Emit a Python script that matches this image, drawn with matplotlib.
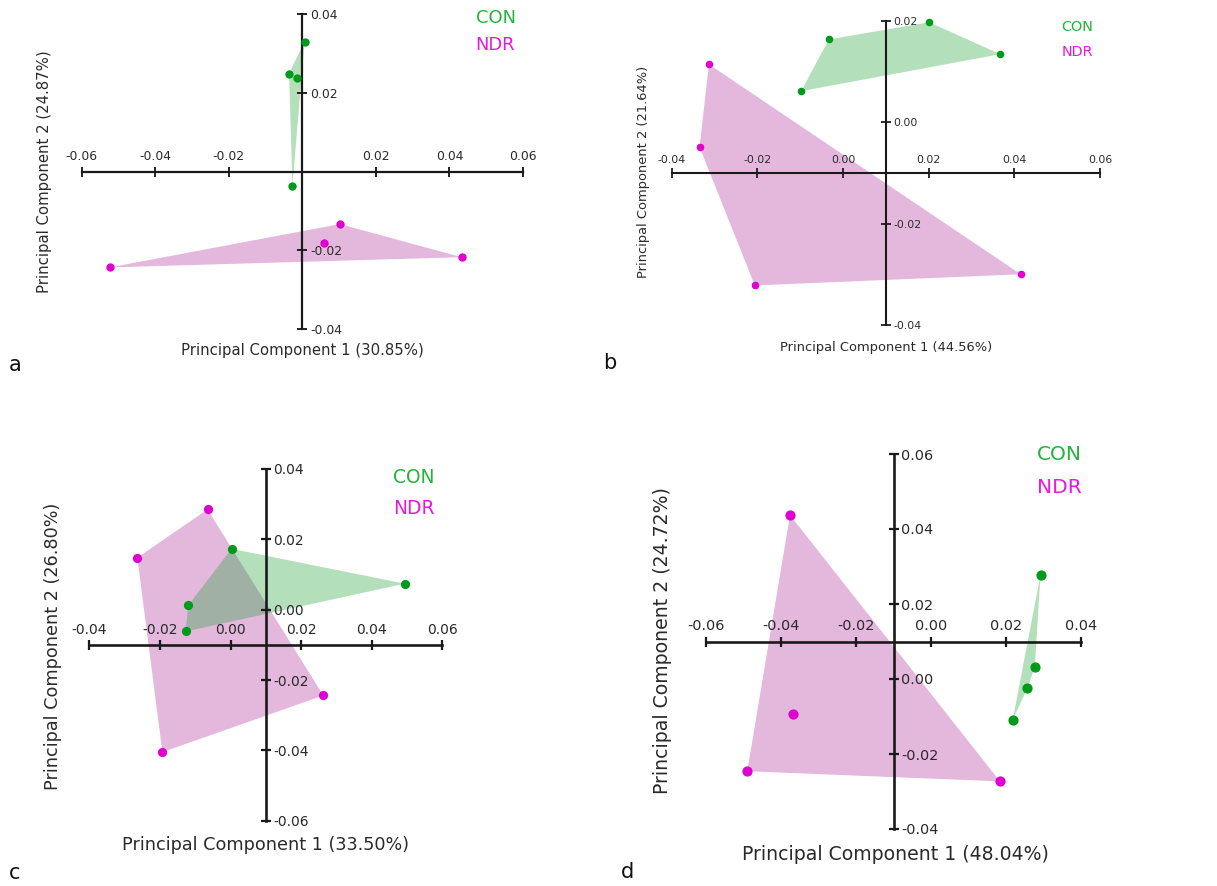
import matplotlib
matplotlib.use("Agg")
from matplotlib import pyplot as plt

W, H = 1217, 886

# ---- data ----
con_a_x = [0.0006, -0.0036, -0.0014, -0.0027]
con_a_y = [0.0330, 0.0249, 0.0237, -0.0036]
ndr_a_x = [0.0102, 0.0059, -0.0524, 0.0433]
ndr_a_y = [-0.0133, -0.0182, -0.0243, -0.0217]

con_b_x = [0.0201, -0.0033, 0.0367, -0.0098]
con_b_y = [0.0197, 0.0163, 0.0134, 0.0061]
ndr_b_x = [-0.0313, -0.0335, -0.0206, 0.0415]
ndr_b_y = [0.0114, -0.0049, -0.0322, -0.0300]

con_c_x = [0.0003, 0.0494, -0.0120, -0.0127]
con_c_y = [0.0173, 0.0074, 0.0012, -0.0062]
ndr_c_x = [-0.0065, -0.0264, 0.0263, -0.0193]
ndr_c_y = [0.0285, 0.0148, -0.0244, -0.0405]

con_d_x = [0.0292, 0.0277, 0.0257, 0.0218]
con_d_y = [0.0278, 0.0033, -0.0025, -0.0108]
ndr_d_x = [-0.0376, -0.0369, -0.0490, 0.0184]
ndr_d_y = [0.0437, -0.0093, -0.0246, -0.0273]

xticks_a = [-0.06, -0.04, -0.02, 0.02, 0.04, 0.06]
yticks_a = [-0.04, -0.02, 0.02, 0.04]
xticks_b = [-0.04, -0.02, 0.00, 0.02, 0.04, 0.06]
yticks_b = [-0.04, -0.02, 0.00, 0.02]
xticks_c = [-0.04, -0.02, 0.00, 0.02, 0.04, 0.06]
yticks_c = [-0.06, -0.04, -0.02, 0.00, 0.02, 0.04]
xticks_d = [-0.06, -0.04, -0.02, 0.00, 0.02, 0.04]
yticks_d = [-0.04, -0.02, 0.00, 0.02, 0.04, 0.06]

pc1 = ["30.85%", "44.56%", "33.50%", "48.04%"]
pc2 = ["24.87%", "21.64%", "26.80%", "24.72%"]
letters = ["a", "b", "c", "d"]
groups = ["CON", "NDR"]

GREEN_PT = "#009a1a"
MAG_PT = "#e000d0"
GREEN_FILL = (20/255, 160/255, 45/255)
MAG_FILL = (171/255, 36/255, 152/255)
TXT = "#2a2a2a"


def hull(xs, ys):
    pts = sorted(set(zip(xs, ys)))
    def cross(o, a, b):
        return (a[0]-o[0])*(b[1]-o[1]) - (a[1]-o[1])*(b[0]-o[0])
    lower, upper = [], []
    for p in pts:
        while len(lower) >= 2 and cross(lower[-2], lower[-1], p) <= 0:
            lower.pop()
        lower.append(p)
    for p in reversed(pts):
        while len(upper) >= 2 and cross(upper[-2], upper[-1], p) <= 0:
            upper.pop()
        upper.append(p)
    h = lower[:-1] + upper[:-1]
    return [p[0] for p in h], [p[1] for p in h]


def ftext(x, y, s, **kw):
    fig.text(x / W, 1 - y / H, s, **kw)


fig = plt.figure(figsize=(W/100, H/100), dpi=100)

# layout: pixel box of axis extents, axis crossing, font sizes, label spots
panels = [
    dict(con=(con_a_x, con_a_y), ndr=(ndr_a_x, ndr_a_y), xt=xticks_a, yt=yticks_a,
         lim=((-0.06, 0.06), (-0.04, 0.04)),
         box=(81.7, 523, 14, 329.3), cross=(0.0, 0.0), tick_fs=8.9, lab_fs=10.7,
         leg_fs=12.9, ms=36, lw=1.6, xlab=(302.5, 350), ylab=(45, 172),
         leg=(475.7, 18, 45), letter=(15, 365)),
    dict(con=(con_b_x, con_b_y), ndr=(ndr_b_x, ndr_b_y), xt=xticks_b, yt=yticks_b,
         lim=((-0.04, 0.06), (-0.04, 0.02)),
         box=(671.7, 1100, 20.7, 325), cross=(0.01, -0.01), tick_fs=7.8, lab_fs=9.4,
         leg_fs=10.4, ms=30, lw=1.5, xlab=(885.8, 347), ylab=(643, 172),
         leg=(1061.7, 27, 52), letter=(610, 363)),
    dict(con=(con_c_x, con_c_y), ndr=(ndr_c_x, ndr_c_y), xt=xticks_c, yt=yticks_c,
         lim=((-0.04, 0.06), (-0.06, 0.04)),
         box=(89.3, 442.3, 469, 820.7), cross=(0.01, -0.01), tick_fs=10, lab_fs=12.7,
         leg_fs=13.4, ms=44, lw=1.9, xlab=(265.8, 845), ylab=(53, 646),
         leg=(392.7, 478, 508), letter=(15, 873)),
    dict(con=(con_d_x, con_d_y), ndr=(ndr_d_x, ndr_d_y), xt=xticks_d, yt=yticks_d,
         lim=((-0.06, 0.04), (-0.04, 0.06)),
         box=(706, 1081, 454, 829), cross=(-0.01, 0.01), tick_fs=10.4, lab_fs=13.6,
         leg_fs=14.5, ms=54, lw=1.9, xlab=(895, 854), ylab=(663, 641),
         leg=(1036.7, 455, 487), letter=(627, 872)),
]

for i, p in enumerate(panels):
    x0, x1, yt0, yb0 = p["box"]
    ax = fig.add_axes([x0 / W, 1 - yb0 / H, (x1 - x0) / W, (yb0 - yt0) / H])
    ax.set_facecolor("none")
    ax.set_xlim(*p["lim"][0])
    ax.set_ylim(*p["lim"][1])

    nx, ny = hull(*p["ndr"])
    ax.fill(nx, ny, color=MAG_FILL, alpha=0.32, lw=0, zorder=1)
    cx, cy = hull(*p["con"])
    ax.fill(cx, cy, color=GREEN_FILL, alpha=0.32, lw=0, zorder=1.1)
    ax.scatter(*p["ndr"], s=p["ms"], color=MAG_PT, lw=0, zorder=4, clip_on=False)
    ax.scatter(*p["con"], s=p["ms"], color=GREEN_PT, lw=0, zorder=4, clip_on=False)

    vx, hy = p["cross"]
    for side in ("left", "bottom"):
        ax.spines[side].set_visible(False)
    ax.spines["top"].set_position(("data", hy))
    ax.spines["right"].set_position(("data", vx))
    for side in ("top", "right"):
        ax.spines[side].set_linewidth(p["lw"])
        ax.spines[side].set_color("#1a1a1a")
    ax.xaxis.set_ticks_position("top")
    ax.yaxis.set_ticks_position("right")
    ax.set_xticks(p["xt"])
    ax.set_xticklabels(["%.2f" % v for v in p["xt"]])
    ax.set_yticks(p["yt"])
    ax.set_yticklabels(["%.2f" % v for v in p["yt"]])
    ax.tick_params(axis="both", direction="inout", length=7, width=p["lw"] * 0.85,
                   color="#1a1a1a", labelsize=p["tick_fs"], labelcolor=TXT)
    ax.tick_params(axis="x", pad=2.5)
    ax.tick_params(axis="y", pad=2)

    ftext(*p["xlab"], "Principal Component 1 (%s)" % pc1[i], ha="center", va="center",
          fontsize=p["lab_fs"], color=TXT)
    ftext(*p["ylab"], "Principal Component 2 (%s)" % pc2[i], ha="center", va="center",
          rotation=90, fontsize=p["lab_fs"], color=TXT)
    lx, ly1, ly2 = p["leg"]
    ftext(lx, ly1, groups[0], ha="left", va="center", fontsize=p["leg_fs"], color="#22b43c")
    ftext(lx, ly2, groups[1], ha="left", va="center", fontsize=p["leg_fs"], color="#e619e0")
    ftext(*p["letter"], letters[i], ha="center", va="center", fontsize=15, color="#111111")

fig.savefig("out.png", dpi=100)
